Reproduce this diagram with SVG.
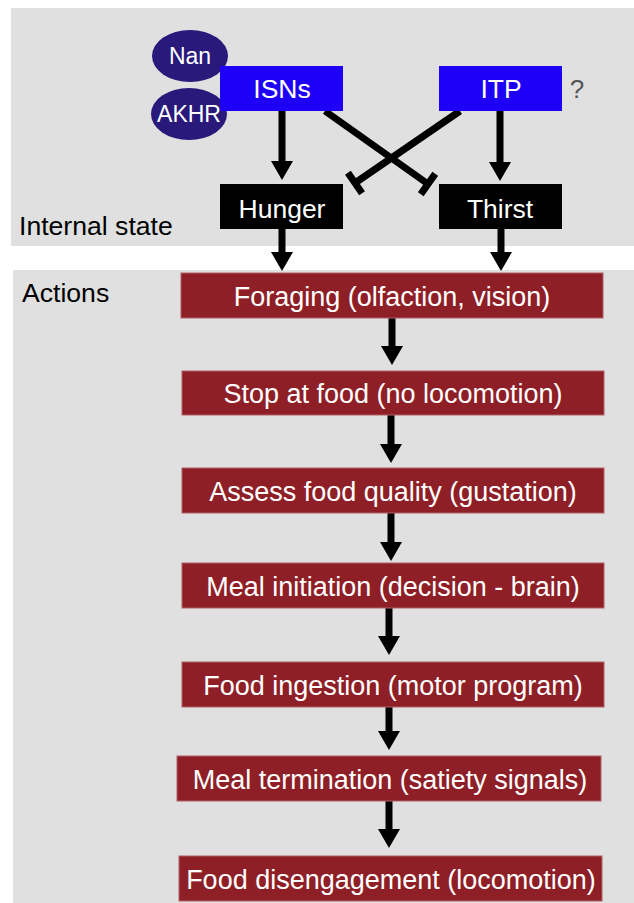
<svg xmlns="http://www.w3.org/2000/svg" width="634" height="903" viewBox="0 0 634 903">
<style>
  text { font-family: "Liberation Sans", Arial, Helvetica, sans-serif; }
  .panel { fill: #e0e0e0; }
  .lbl { font-size: 26.6px; fill: #000; }
  .blue { fill: #1e00f7; }
  .blk { fill: #000; }
  .ell { fill: #28197a; }
  .act { fill: #8f1f26; stroke: #b06066; stroke-width: 1; }
  .wt { fill: #fff; font-size: 26.5px; text-anchor: middle; }
  .wa { fill: #fff; font-size: 27px; text-anchor: middle; }
  .ew { fill: #fff; font-size: 23px; text-anchor: middle; }
  .arr { stroke: #000; stroke-width: 7; fill: none; marker-end: url(#head); }
  .inh { stroke: #000; stroke-width: 7; fill: none; marker-end: url(#bar); }
</style>
<defs>
  <marker id="head" markerUnits="userSpaceOnUse" viewBox="0 0 19 22" refX="0" refY="11" markerWidth="19" markerHeight="22" orient="auto">
    <path d="M0,0 L19,11 L0,22 Z" fill="#000"/>
  </marker>
  <marker id="bar" markerUnits="userSpaceOnUse" viewBox="-4 -13 8 26" refX="0" refY="0" markerWidth="8" markerHeight="26" orient="auto">
    <rect x="-3.5" y="-12.5" width="7" height="25" fill="#000"/>
  </marker>
</defs>
<rect x="0" y="0" width="634" height="903" fill="#fff"/>
<rect class="panel" x="11" y="8" width="623" height="238"/>
<rect class="panel" x="13" y="270" width="621" height="633"/>
<text class="lbl" x="19" y="235">Internal state</text>
<text class="lbl" x="22" y="302">Actions</text>

<g id="connectors">
  <path class="arr" d="M282,111 V161"/>
  <path class="arr" d="M500,111 V162"/>
  <path class="inh" d="M325,111 L428,184"/>
  <path class="inh" d="M460,111 L355,183"/>
  <path class="arr" d="M282,229 V252"/>
  <path class="arr" d="M501,229 V252"/>
  <path class="arr" d="M392,318 V346"/>
  <path class="arr" d="M391,415 V444"/>
  <path class="arr" d="M391,513 V542"/>
  <path class="arr" d="M389,608 V636"/>
  <path class="arr" d="M389,707 V731"/>
  <path class="arr" d="M389,801 V829"/>
</g>

<g id="nan"><ellipse class="ell" cx="190" cy="56" rx="38" ry="26"/><text class="ew" x="190" y="64">Nan</text></g>
<g id="akhr"><ellipse class="ell" cx="189" cy="114" rx="38" ry="26"/><text class="ew" x="189" y="122">AKHR</text></g>
<g id="isns"><rect class="blue" x="220" y="66" width="123" height="45"/><text class="wt" x="282" y="98">ISNs</text></g>
<g id="itp"><rect class="blue" x="439" y="66" width="123" height="45"/><text class="wt" x="501" y="98">ITP</text></g>
<text x="577" y="98" font-size="26" fill="#555" text-anchor="middle">?</text>
<g id="hunger"><rect class="blk" x="220" y="184" width="123" height="45"/><text class="wt" x="282" y="218">Hunger</text></g>
<g id="thirst"><rect class="blk" x="439" y="184" width="123" height="45"/><text class="wt" x="500" y="218">Thirst</text></g>

<g id="foraging"><rect class="act" x="181" y="273" width="422" height="45"/><text class="wa" x="392" y="306">Foraging (olfaction, vision)</text></g>
<g id="stop"><rect class="act" x="182" y="371" width="422" height="44"/><text class="wa" x="393" y="403">Stop at food (no locomotion)</text></g>
<g id="assess"><rect class="act" x="182" y="468" width="422" height="45"/><text class="wa" x="393" y="501">Assess food quality (gustation)</text></g>
<g id="initiation"><rect class="act" x="182" y="563" width="422" height="45"/><text class="wa" x="393" y="596">Meal initiation (decision - brain)</text></g>
<g id="ingestion"><rect class="act" x="182" y="662" width="422" height="45"/><text class="wa" x="393" y="695">Food ingestion (motor program)</text></g>
<g id="termination"><rect class="act" x="177" y="756" width="424" height="45"/><text class="wa" x="390" y="789">Meal termination (satiety signals)</text></g>
<g id="disengagement"><rect class="act" x="179" y="856" width="423" height="45"/><text class="wa" x="391" y="889">Food disengagement (locomotion)</text></g>
</svg>
